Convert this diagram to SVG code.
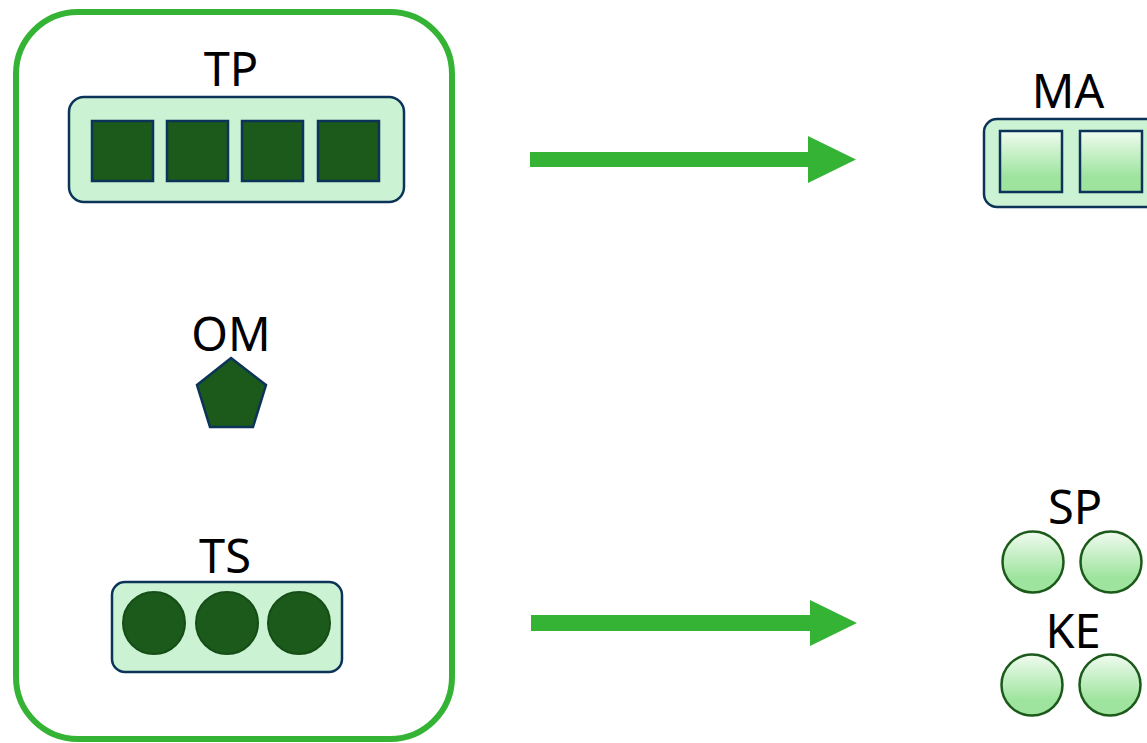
<svg xmlns="http://www.w3.org/2000/svg" width="1147" height="743" viewBox="0 0 1147 743">
<defs>
<linearGradient id="lg" x1="0" y1="0" x2="0" y2="1">
<stop offset="0" stop-color="#f0fbf0"/>
<stop offset="0.75" stop-color="#9ee49e"/>
<stop offset="1" stop-color="#9ee49e"/>
</linearGradient>
<style>
.lbl{font-family:"Noto Sans","Open Sans","DejaVu Sans",sans-serif;font-size:47px;fill:#000;text-anchor:middle}
.tray{fill:#ccf2d4;stroke:#0c3358;stroke-width:2.5}
.dsq{fill:#1b5a1a;stroke:#0c3358;stroke-width:2.5}
.dcir{fill:#1b5a1a;stroke:#154d16;stroke-width:2}
.lsq{fill:url(#lg);stroke:#0c3358;stroke-width:2.5}
.lcir{fill:url(#lg);stroke:#1b5a1a;stroke-width:2.5}
.arr{fill:#35b335}
</style>
</defs>
<rect width="1147" height="743" fill="#fff"/>
<g id="container">
<rect x="16" y="12" width="436" height="727" rx="62" fill="none" stroke="#35b335" stroke-width="6"/>
</g>
<g id="TP">
<text class="lbl" x="231" y="86">TP</text>
<rect class="tray" x="69" y="97" width="335" height="105" rx="15"/>
<rect class="dsq" x="92" y="121" width="61" height="60"/>
<rect class="dsq" x="167" y="121" width="61" height="60"/>
<rect class="dsq" x="242" y="121" width="61" height="60"/>
<rect class="dsq" x="318" y="121" width="61" height="60"/>
</g>
<g id="OM">
<text class="lbl" x="231" y="351">OM</text>
<polygon class="dsq" points="231,358 266,385 253,427 210,427 197,385"/>
</g>
<g id="TS">
<text class="lbl" x="225" y="573">TS</text>
<rect class="tray" x="112" y="582" width="230" height="90" rx="13"/>
<circle class="dcir" cx="154" cy="623" r="31"/>
<circle class="dcir" cx="227" cy="623" r="31"/>
<circle class="dcir" cx="299" cy="623" r="31"/>
</g>
<g id="MA">
<text class="lbl" x="1068" y="108">MA</text>
<rect class="tray" x="984" y="119" width="190" height="88" rx="13"/>
<rect class="lsq" x="1000" y="131" width="62" height="61"/>
<rect class="lsq" x="1080" y="131" width="62" height="61"/>
</g>
<g id="SP">
<text class="lbl" x="1075" y="524">SP</text>
<circle class="lcir" cx="1033" cy="562" r="30.5"/>
<circle class="lcir" cx="1111" cy="562" r="30.5"/>
</g>
<g id="KE">
<text class="lbl" x="1073" y="648">KE</text>
<circle class="lcir" cx="1032" cy="685" r="30.5"/>
<circle class="lcir" cx="1110" cy="685" r="30.5"/>
</g>
<g id="connectors">
<polygon class="arr" points="530,152 808,152 808,136 856,159.5 808,183 808,167 530,167"/>
<polygon class="arr" points="531,615 810,615 810,600 857,623 810,646 810,631 531,631"/>
</g>
</svg>
